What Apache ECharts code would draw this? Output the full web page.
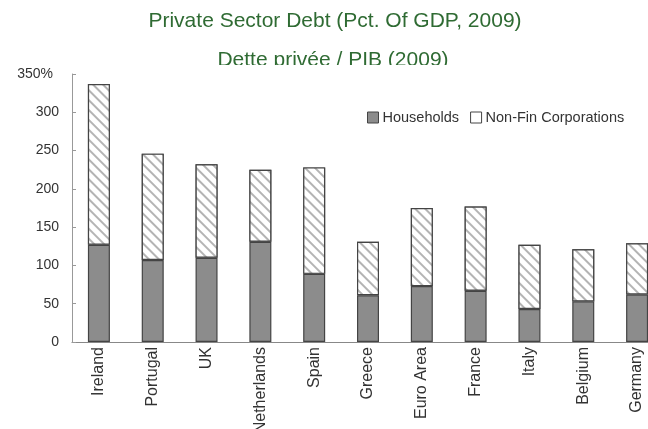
<!DOCTYPE html>
<html>
<head>
<meta charset="utf-8">
<script src="https://cdn.jsdelivr.net/npm/echarts@6/dist/echarts.min.js"></script>
<style>
  html, body { margin: 0; padding: 0; background: #fff; }
  #chart { width: 648px; height: 429px; }
</style>
</head>
<body>
<div id="chart"></div>
<script>
// Private sector debt by country, % of GDP, 2009
const countries = ['Ireland', 'Portugal', 'UK', 'Netherlands', 'Spain', 'Greece',
                   'Euro Area', 'France', 'Italy', 'Belgium', 'Germany'];
const households = [127, 107, 110, 131, 89, 61, 73, 67, 43, 53, 62];
const nonFinCorporations = [210, 139, 122, 94, 139, 70, 102, 110, 84, 68, 67];
const yTicks = [0, 50, 100, 150, 200, 250, 300, 350];

const SANS = '"Liberation Sans", Arial, Helvetica, sans-serif';
const chart = echarts.init(document.getElementById('chart'), null, { renderer: 'canvas' });

chart.setOption({
  backgroundColor: '#ffffff',
  animation: false,
  title: [
    {
      text: 'Private Sector Debt (Pct. Of GDP, 2009)',
      left: 330, top: 6, textAlign: 'center',
      textStyle: { color: '#2f6b33', fontSize: 21, fontWeight: 'normal', fontFamily: SANS }
    },
    {
      text: 'Dette privée / PIB (2009)',
      left: 328, top: 45, textAlign: 'center',
      textStyle: { color: '#2f6b33', fontSize: 21, fontWeight: 'normal', fontFamily: SANS }
    }
  ],
  // the plot panel sits over the lower edge of the second title line
  graphic: [{
    type: 'rect', z: 100,
    shape: { x: 150, y: 65, width: 360, height: 9 },
    style: { fill: '#ffffff' }
  }],
  legend: {
    left: 367, top: 110, padding: 0,
    itemWidth: 11, itemHeight: 11, itemGap: 11,
    icon: 'rect',
    textStyle: { fontSize: 14.5, color: '#333', fontFamily: SANS, padding: [0, 0, 0, -1] },
    data: [
      { name: 'Households', itemStyle: { color: '#8c8c8c', borderColor: '#444', borderWidth: 1 } },
      { name: 'Non-Fin Corporations', itemStyle: { color: '#ffffff', borderColor: '#444', borderWidth: 1, decal: 'none' } }
    ]
  },
  // the last category runs past the right edge of the page
  grid: { left: 72, top: 74, width: 592, height: 268, outerBoundsMode: 'none', containLabel: false },
  xAxis: {
    type: 'category',
    data: countries,
    axisLine: { lineStyle: { color: '#888', width: 1.2 } },
    axisTick: { show: false },
    axisLabel: {
      rotate: 90, interval: 0, margin: 5,
      fontSize: 16, color: '#333', fontFamily: SANS
    }
  },
  yAxis: {
    type: 'value',
    min: yTicks[0], max: yTicks[yTicks.length - 1], interval: 50,
    splitLine: { show: false },
    axisLine: { show: true, lineStyle: { color: '#999', width: 1 } },
    axisTick: { show: true, inside: true, length: 4, lineStyle: { color: '#999' } },
    axisLabel: {
      fontSize: 14, color: '#333', fontFamily: SANS, margin: 13,
      formatter: v => (v === 350 ? '{top|' + v + '%}' : String(v)),
      rich: { top: { fontSize: 14, color: '#333', fontFamily: SANS, padding: [0, 6, 0, 0] } }
    }
  },
  series: [
    {
      name: 'Households', type: 'bar', stack: 'debt',
      data: households, barWidth: 22,
      itemStyle: { color: '#8c8c8c', borderColor: '#444', borderWidth: 1.2 }
    },
    {
      name: 'Non-Fin Corporations', type: 'bar', stack: 'debt',
      data: nonFinCorporations, barWidth: 22,
      itemStyle: {
        color: '#ffffff', borderColor: '#444', borderWidth: 1.2,
        decal: {
          color: '#b4b4b4', backgroundColor: '#ffffff',
          symbol: 'rect', dashArrayX: [1, 0], dashArrayY: [2, 5],
          rotation: Math.PI / 4
        }
      }
    }
  ]
});
</script>
</body>
</html>
